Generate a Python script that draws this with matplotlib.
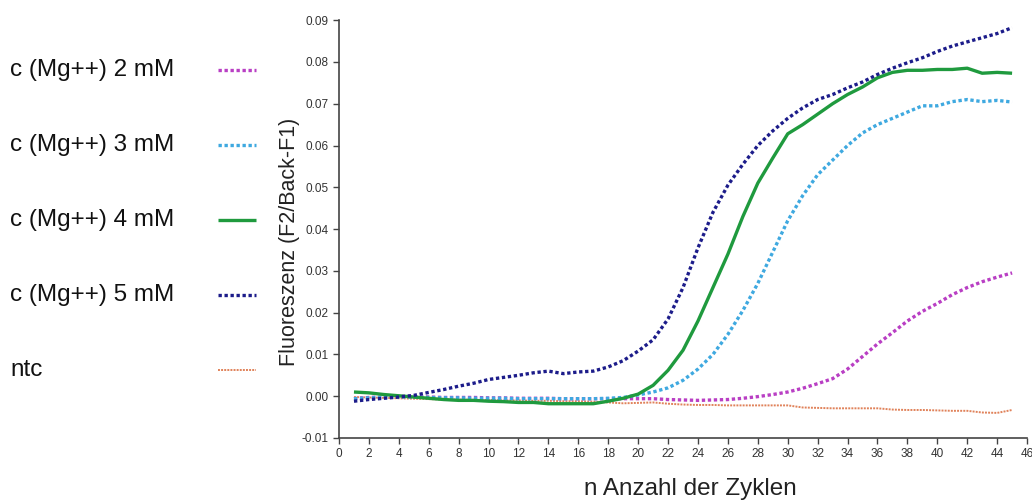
import numpy as np
import matplotlib
matplotlib.use("Agg")
import matplotlib.pyplot as plt
from matplotlib.lines import Line2D

plt.rcParams['font.family'] = ['Liberation Sans', 'DejaVu Sans']

# PCR amplification curves
cycles = np.arange(1, 46)

mg_2mM = [-0.0006, -0.0003, -0.0002, 0.0000, -0.0001, -0.0002, -0.0003, -0.0003, -0.0003, -0.0004,
          -0.0004, -0.0005, -0.0005, -0.0005, -0.0006, -0.0006, -0.0006, -0.0006, -0.0006, -0.0006,
          -0.0006, -0.0008, -0.0009, -0.0010, -0.0009, -0.0008, -0.0005, -0.0001, 0.0004, 0.0010,
          0.0019, 0.0030, 0.0042, 0.0065, 0.0095, 0.0125, 0.0152, 0.0180, 0.0203, 0.0222,
          0.0243, 0.0260, 0.0274, 0.0285, 0.0295]

mg_3mM = [-0.0006, -0.0004, -0.0003, -0.0002, -0.0002, -0.0003, -0.0004, -0.0004, -0.0005, -0.0005,
          -0.0005, -0.0006, -0.0006, -0.0006, -0.0006, -0.0006, -0.0006, -0.0005, -0.0003, 0.0003,
          0.0010, 0.0020, 0.0038, 0.0065, 0.0100, 0.0148, 0.0205, 0.0270, 0.0345, 0.0420,
          0.0480, 0.0530, 0.0565, 0.0600, 0.0630, 0.0650, 0.0665, 0.0680, 0.0695, 0.0695,
          0.0705, 0.0710, 0.0705, 0.0708, 0.0704]

mg_4mM = [0.0010, 0.0008, 0.0004, 0.0001, -0.0002, -0.0005, -0.0008, -0.0010, -0.0010, -0.0012,
          -0.0013, -0.0015, -0.0015, -0.0018, -0.0018, -0.0018, -0.0018, -0.0012, -0.0005, 0.0005,
          0.0026, 0.0062, 0.0110, 0.0180, 0.0260, 0.0340, 0.0430, 0.0510, 0.0570, 0.0628,
          0.0650, 0.0675, 0.0700, 0.0722, 0.0740, 0.0762, 0.0775, 0.0780, 0.0780, 0.0782,
          0.0782, 0.0785, 0.0773, 0.0775, 0.0773]

mg_5mM = [-0.0012, -0.0008, -0.0005, -0.0002, 0.0002, 0.0009, 0.0016, 0.0024, 0.0031, 0.0040,
          0.0045, 0.0050, 0.0056, 0.0060, 0.0054, 0.0058, 0.0060, 0.0070, 0.0085, 0.0108,
          0.0135, 0.0185, 0.0260, 0.0355, 0.0440, 0.0505, 0.0555, 0.0600, 0.0635, 0.0665,
          0.0690, 0.0710, 0.0722, 0.0738, 0.0752, 0.0770, 0.0785, 0.0798, 0.0810, 0.0825,
          0.0838, 0.0848, 0.0858, 0.0868, 0.0882]

ntc = [-0.0002, -0.0003, -0.0004, -0.0005, -0.0006, -0.0007, -0.0008, -0.0008, -0.0009, -0.0009,
       -0.0010, -0.0010, -0.0011, -0.0011, -0.0012, -0.0012, -0.0013, -0.0015, -0.0017, -0.0016,
       -0.0015, -0.0018, -0.0020, -0.0021, -0.0021, -0.0022, -0.0022, -0.0022, -0.0022, -0.0022,
       -0.0027, -0.0028, -0.0029, -0.0029, -0.0029, -0.0029, -0.0032, -0.0033, -0.0033, -0.0034,
       -0.0035, -0.0035, -0.0039, -0.0040, -0.0033]

labels = ["c (Mg++) 2 mM", "c (Mg++) 3 mM", "c (Mg++) 4 mM", "c (Mg++) 5 mM", "ntc"]
series = [mg_2mM, mg_3mM, mg_4mM, mg_5mM, ntc]
colors = ["#b93fc4", "#3fa9e0", "#1f9a3e", "#1c1c8a", "#e0825a"]
styles = [dict(ls=(0, (1, 0.8)), lw=2.4),
          dict(ls=(0, (1, 0.8)), lw=2.4),
          dict(ls="-", lw=2.4),
          dict(ls=(0, (1, 0.8)), lw=2.4),
          dict(ls=(0, (1, 0.6)), lw=1.4)]

fig = plt.figure(figsize=(10.32, 5.04), dpi=100)
ax = fig.add_axes([0.3285, 0.131, 0.6667, 0.829])

# draw ntc first, 5 mM last (on top)
for i in [4, 0, 1, 2, 3]:
    ax.plot(cycles, series[i], color=colors[i], solid_capstyle="butt", **styles[i])

ax.set_xlim(0, 46)
ax.set_ylim(-0.01, 0.09)
ax.set_xticks(np.arange(0, 47, 2))
ax.set_yticks(np.arange(-0.01, 0.0901, 0.01))
ax.yaxis.set_major_formatter(matplotlib.ticker.FormatStrFormatter("%.2f"))

for s in ["top", "right"]:
    ax.spines[s].set_visible(False)
for s in ["left", "bottom"]:
    ax.spines[s].set_color("#444444")
    ax.spines[s].set_linewidth(1.2)

ax.tick_params(direction="out", length=4, width=1, color="#444444",
               labelsize=8.5, labelcolor="#333333")
ax.tick_params(axis="x", pad=3)
for t in ax.get_xticklabels() + ax.get_yticklabels():
    t.set_family(['Liberation Sans Narrow', 'Liberation Sans', 'DejaVu Sans'])

ax.set_ylabel("Fluoreszenz (F2/Back-F1)", fontsize=15.5, color="#222222")
ax.yaxis.set_label_coords(-0.056, 0.47)
ax.set_xlabel("n Anzahl der Zyklen", fontsize=17.5, color="#222222")
ax.xaxis.set_label_coords(0.51, -0.095)

# legend on the left: text left-aligned, line samples in a column
leg_y0 = 1 - 70 / 504
leg_dy = 75 / 504
for i, label in enumerate(labels):
    y = leg_y0 - i * leg_dy
    fig.text(0.01, y, label, fontsize=17.5, va="center", ha="left", color="#111111")
    fig.add_artist(Line2D([0.211, 0.248], [y, y], transform=fig.transFigure,
                          color=colors[i], solid_capstyle="butt", **styles[i]))

fig.savefig("out.png", dpi=100)
